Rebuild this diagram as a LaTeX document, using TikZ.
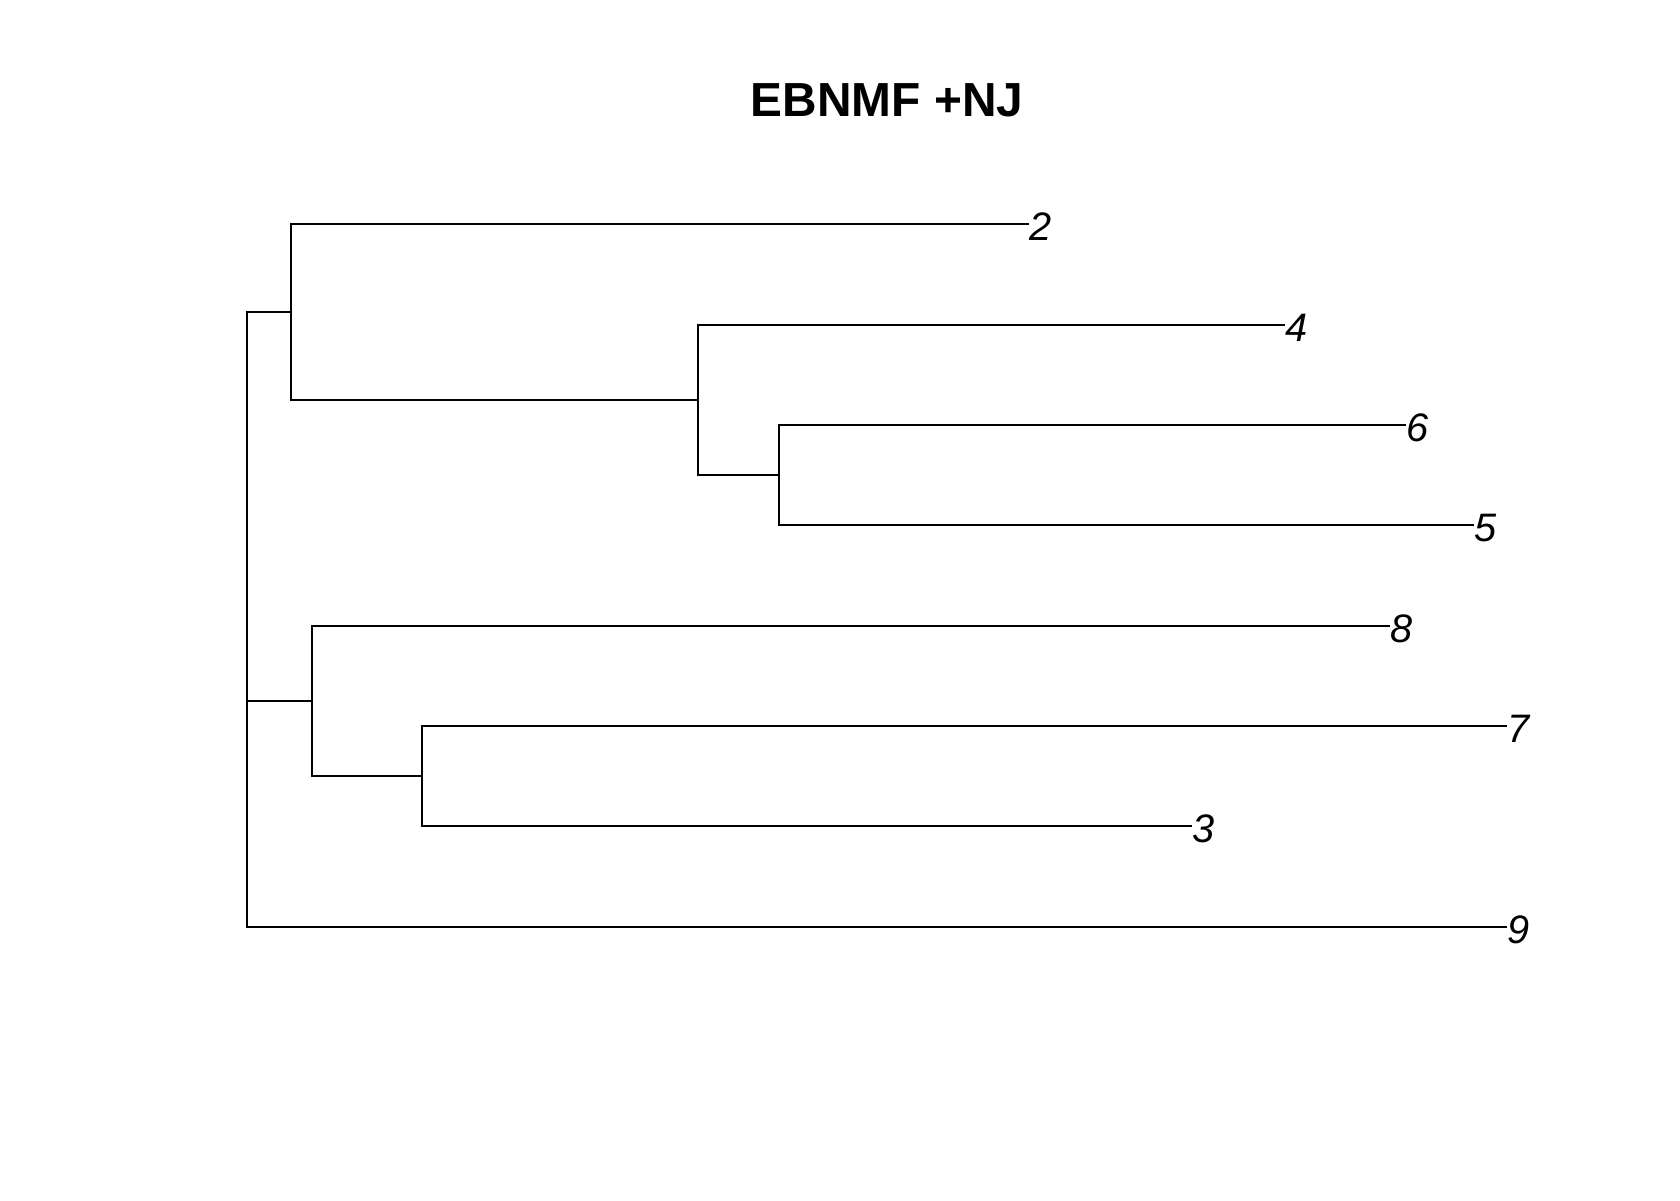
\documentclass[tikz,border=0pt]{standalone}
\usepackage{fontspec}
\setmainfont{Liberation Sans}
\usetikzlibrary{arrows,positioning}
\begin{document}
\begin{tikzpicture}[x=0.01cm,y=-0.01cm]
                    \tikzstyle{every node}+=[inner sep=0pt]
                    \tikzstyle{leaflabel}=[anchor=west,text height=0.33cm,text depth=0pt,font=\fontsize{11.3}{13}\selectfont\itshape]
                    \tikzstyle{branchline}=[black,line width=0.5pt]
                    \useasboundingbox (0,0) rectangle (1680,1200);
                    \node [anchor=base,font=\fontsize{13.6}{16}\selectfont\bfseries] (title) at (887,116.5) {EBNMF +NJ};
                    % inner nodes
                    \coordinate (root) at (247,619.5);
                    \coordinate (A) at (291,312);
                    \coordinate (B) at (698,400);
                    \coordinate (C) at (779,475);
                    \coordinate (D) at (312,701);
                    \coordinate (E) at (422,776);
                    % leaves
                    \node [leaflabel] (l2) at (1029,224) {2};
                    \node [leaflabel] (l4) at (1285,325) {4};
                    \node [leaflabel] (l6) at (1406,425) {6};
                    \node [leaflabel] (l5) at (1474,525) {5};
                    \node [leaflabel] (l8) at (1390,626) {8};
                    \node [leaflabel] (l7) at (1507,726) {7};
                    \node [leaflabel] (l3) at (1192,826) {3};
                    \node [leaflabel] (l9) at (1507,927) {9};
                    % branches
                    \draw [branchline] (root) |- (A);
                    \draw [branchline] (root) |- (D);
                    \draw [branchline] (root) |- (l9.west);
                    \draw [branchline] (A) |- (l2.west);
                    \draw [branchline] (A) |- (B);
                    \draw [branchline] (B) |- (l4.west);
                    \draw [branchline] (B) |- (C);
                    \draw [branchline] (C) |- (l6.west);
                    \draw [branchline] (C) |- (l5.west);
                    \draw [branchline] (D) |- (l8.west);
                    \draw [branchline] (D) |- (E);
                    \draw [branchline] (E) |- (l7.west);
                    \draw [branchline] (E) |- (l3.west);
                    % \draw [branchline] (root) -- (E);
\end{tikzpicture}
\end{document}
